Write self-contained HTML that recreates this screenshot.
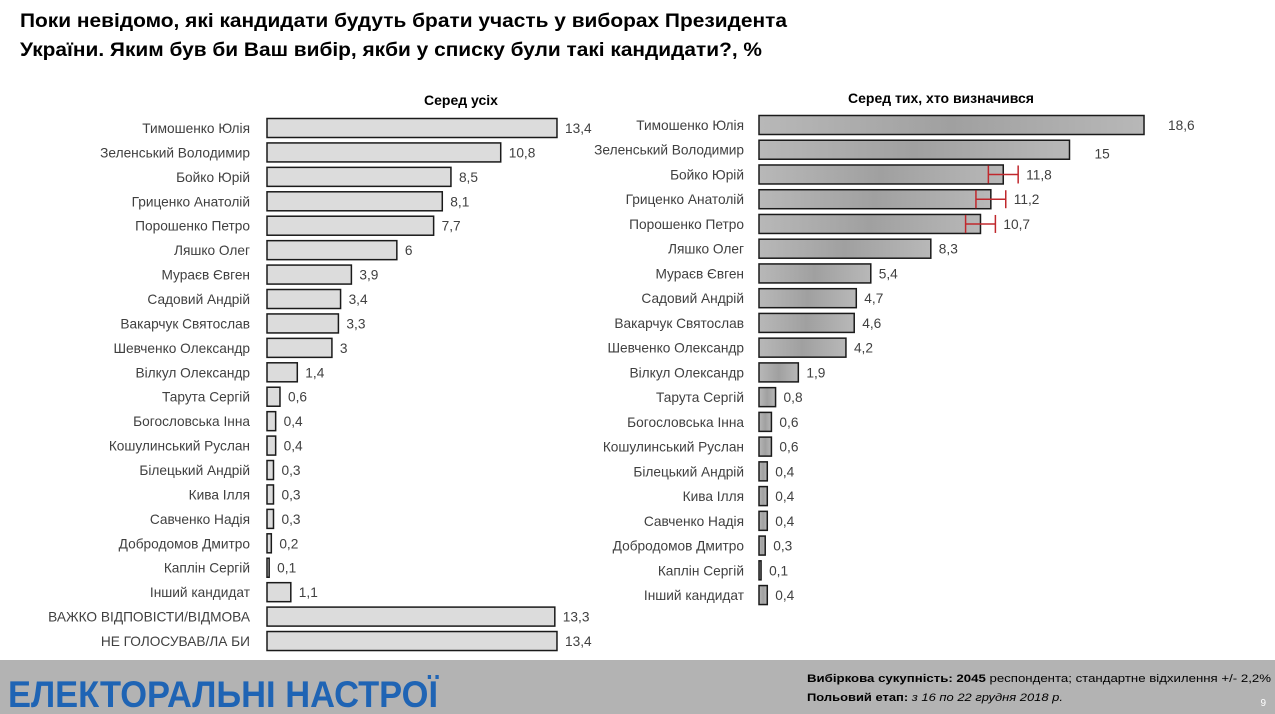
<!DOCTYPE html>
<html><head><meta charset="utf-8"><style>
html,body{margin:0;padding:0;background:#fff;}
svg{display:block;font-family:"Liberation Sans","DejaVu Sans",sans-serif;}
</style></head><body>
<svg id="chart" width="1275" height="714" viewBox="0 0 1275 714" xmlns="http://www.w3.org/2000/svg">
<defs>
<linearGradient id="g2" x1="0" x2="1" y1="0" y2="0">
<stop offset="0" stop-color="#b8b8b8"/><stop offset="0.5" stop-color="#a0a0a0"/><stop offset="1" stop-color="#b8b8b8"/>
</linearGradient>
</defs>
<text x="20" y="27" font-size="19" font-weight="bold" fill="#000" textLength="767" lengthAdjust="spacingAndGlyphs">Поки невідомо, які кандидати будуть брати участь у виборах Президента</text>
<text x="20" y="56" font-size="19" font-weight="bold" fill="#000" textLength="742" lengthAdjust="spacingAndGlyphs">України. Яким був би Ваш вибір, якби у списку були такі кандидати?, %</text>
<text x="461" y="105" font-size="14" font-weight="bold" text-anchor="middle">Серед усіх</text>
<text x="941" y="103" font-size="14" font-weight="bold" text-anchor="middle">Серед тих, хто визначився</text>
<g id="left"></g>
<g id="right"></g>
<rect x="0" y="660" width="1275" height="54" fill="#b3b3b3"/>
<text x="8" y="707" font-size="37" font-weight="bold" fill="#1f64b4" textLength="430" lengthAdjust="spacingAndGlyphs">ЕЛЕКТОРАЛЬНІ НАСТРОЇ</text>
<text x="807" y="682" font-size="11" fill="#000" textLength="464" lengthAdjust="spacingAndGlyphs"><tspan font-weight="bold">Вибіркова сукупність:  2045</tspan> респондента; стандартне  відхилення +/- 2,2%</text>
<text x="807" y="701" font-size="11" fill="#000" textLength="256" lengthAdjust="spacingAndGlyphs"><tspan font-weight="bold">Польовий етап:</tspan> <tspan font-style="italic">з 16 по 22 грудня 2018 р.</tspan></text>
<text x="1266" y="706" font-size="10" fill="#fff" text-anchor="end">9</text>
</svg>
<script>
const leftCategories = ["Тимошенко Юлія","Зеленський Володимир","Бойко Юрій","Гриценко Анатолій","Порошенко Петро","Ляшко Олег","Мураєв Євген","Садовий Андрій","Вакарчук Святослав","Шевченко Олександр","Вілкул Олександр","Тарута Сергій","Богословська Інна","Кошулинський Руслан","Білецький Андрій","Кива Ілля","Савченко Надія","Добродомов Дмитро","Каплін Сергій","Інший кандидат","ВАЖКО ВІДПОВІСТИ/ВІДМОВА","НЕ ГОЛОСУВАВ/ЛА БИ"];
const leftValues = [13.4,10.8,8.5,8.1,7.7,6,3.9,3.4,3.3,3,1.4,0.6,0.4,0.4,0.3,0.3,0.3,0.2,0.1,1.1,13.3,13.4];
const rightCategories = ["Тимошенко Юлія","Зеленський Володимир","Бойко Юрій","Гриценко Анатолій","Порошенко Петро","Ляшко Олег","Мураєв Євген","Садовий Андрій","Вакарчук Святослав","Шевченко Олександр","Вілкул Олександр","Тарута Сергій","Богословська Інна","Кошулинський Руслан","Білецький Андрій","Кива Ілля","Савченко Надія","Добродомов Дмитро","Каплін Сергій","Інший кандидат"];
const rightValues = [18.6,15,11.8,11.2,10.7,8.3,5.4,4.7,4.6,4.2,1.9,0.8,0.6,0.6,0.4,0.4,0.4,0.3,0.1,0.4];
const rightErrors = [0,0,0.72,0.72,0.72,0,0,0,0,0,0,0,0,0,0,0,0,0,0,0];

const NS="http://www.w3.org/2000/svg";
function mk(tag,attrs,parent){const e=document.createElementNS(NS,tag);for(const k in attrs)e.setAttribute(k,attrs[k]);parent.appendChild(e);return e;}
function fmt(v){return String(v).replace('.',',');}

function drawPanel(g,cats,vals,errs,x0,scale,yStart,step,labelX,fill,prefix){
  const xs=v=>x0+v*scale;
  const ys=i=>yStart+i*step;
  cats.forEach((c,i)=>{
    const y=ys(i);
    const t=mk('text',{x:labelX,y:y+5,'font-size':13.7,fill:'#404040','text-anchor':'end'},g);
    t.textContent=c;
    
    
    const r=mk('rect',{x:x0,y:y-9.5,width:Math.max(1,xs(vals[i])-x0),height:19,fill:fill,stroke:'#1a1a1a','stroke-width':1.5},g);
    
    
    let lx=xs(vals[i])+8;
    if(errs&&errs[i]){
      const a=xs(vals[i]-errs[i]),b=xs(vals[i]+errs[i]);
      const eg=mk('g',{stroke:'#c0282d','stroke-width':1.5},g);
      
      
      mk('line',{x1:a,x2:b,y1:y,y2:y},eg);
      mk('line',{x1:a,x2:a,y1:y-9,y2:y+9},eg);
      mk('line',{x1:b,x2:b,y1:y-9,y2:y+9},eg);
      lx=b+8;
    }
    if(prefix==='right'&&i===0) lx+=16;
    const vy = (prefix==='right'&&i===1)? y+9 : y+5;
    if(prefix==='right'&&i===1) lx+=17;
    const v=mk('text',{x:lx,y:vy,'font-size':13.7,fill:'#404040'},g);
    v.textContent=fmt(vals[i]);
    
    
  });
}
drawPanel(document.getElementById('left'),leftCategories,leftValues,null,267,21.64,128,24.43,250,'#dcdcdc','left');
drawPanel(document.getElementById('right'),rightCategories,rightValues,rightErrors,759,20.7,125,24.74,744,'url(#g2)','right');
</script>
</body></html>
